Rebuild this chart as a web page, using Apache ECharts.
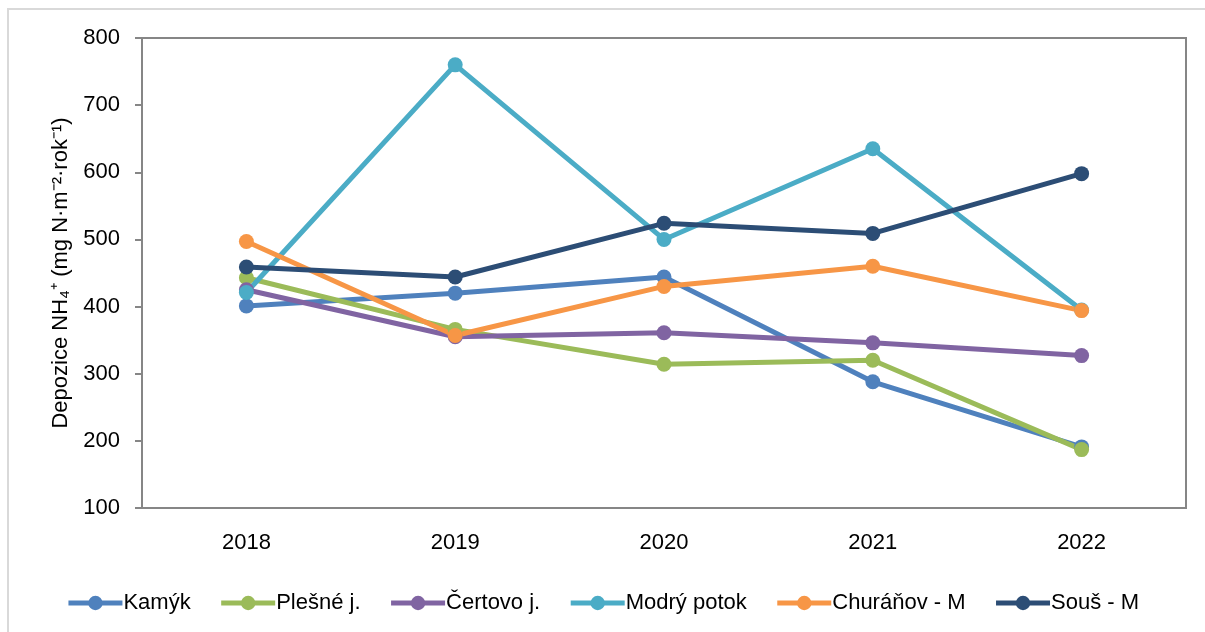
<!DOCTYPE html>
<html>
<head>
<meta charset="utf-8">
<script src="https://cdn.jsdelivr.net/npm/echarts@6/dist/echarts.min.js"></script>
<style>
  html, body { margin: 0; padding: 0; background: #fff; }
  #frame { position: absolute; left: 7px; top: 8px; width: 1210px; height: 640px; border: 2px solid #d9d9d9; box-sizing: border-box; }
  #chart { position: absolute; left: 0; top: 0; width: 1205px; height: 632px; }
</style>
</head>
<body>
<div id="frame"></div>
<div id="chart"></div>
<script>
// data
const years = ['2018', '2019', '2020', '2021', '2022'];
const kamyk = [401, 420, 444, 288, 191];
const plesne = [443, 366, 314, 320, 187];
const certovo = [425, 355, 361, 346, 327];
const modryPotok = [421, 760, 500, 635, 395];
const churanov = [497, 357, 430, 460, 394];
const sous = [459, 444, 524, 509, 598];

const chartDom = document.getElementById('chart');
const myChart = echarts.init(chartDom);

const font = 'Liberation Sans, Arial, sans-serif';

function line(name, data, color) {
  return {
    name: name,
    type: 'line',
    data: data,
    symbol: 'circle',
    symbolSize: 15,
    lineStyle: { width: 5, color: color },
    itemStyle: { color: color },
    emphasis: { disabled: true }
  };
}

const option = {
  animation: false,
  textStyle: { fontFamily: font },
  grid: {
    left: 142, right: 19, top: 38, bottom: 124,
    show: true, borderColor: '#868686', borderWidth: 2
  },
  legend: {
    bottom: 13,
    left: 'center',
    itemWidth: 54,
    itemHeight: 18,
    itemGap: 28,
    lineStyle: { width: 5 },
    textStyle: { fontSize: 22, color: '#000', fontFamily: font, padding: [0, 0, 0, -4] },
    data: ['Kamýk', 'Plešné j.', 'Čertovo j.', 'Modrý potok', 'Churáňov - M', 'Souš - M']
  },
  xAxis: {
    type: 'category',
    data: years,
    boundaryGap: true,
    axisLine: { lineStyle: { color: '#868686', width: 2 } },
    axisTick: { alignWithLabel: true, length: 6, lineStyle: { color: '#868686', width: 2 } },
    axisLabel: { fontSize: 22, color: '#000', margin: 24 }
  },
  yAxis: {
    type: 'value',
    min: 100,
    max: 800,
    interval: 100,
    name: 'Depozice NH₄⁺ (mg N·m⁻²·rok⁻¹)',
    nameLocation: 'middle',
    nameGap: 68,
    nameTextStyle: { fontSize: 22, color: '#000', fontFamily: font },
    axisLine: { show: true, lineStyle: { color: '#868686', width: 2 } },
    axisTick: { show: true, length: 7, lineStyle: { color: '#868686', width: 2 } },
    splitLine: { show: false },
    axisLabel: { fontSize: 22, color: '#000', margin: 22 }
  },
  series: [
    line('Kamýk', kamyk, '#4f81bd'),
    line('Plešné j.', plesne, '#9bbb59'),
    line('Čertovo j.', certovo, '#8064a2'),
    line('Modrý potok', modryPotok, '#4bacc6'),
    line('Churáňov - M', churanov, '#f79646'),
    line('Souš - M', sous, '#2c4d75')
  ]
};

myChart.setOption(option);

window.addEventListener('resize', () => myChart.resize());
</script>
</body>
</html>
